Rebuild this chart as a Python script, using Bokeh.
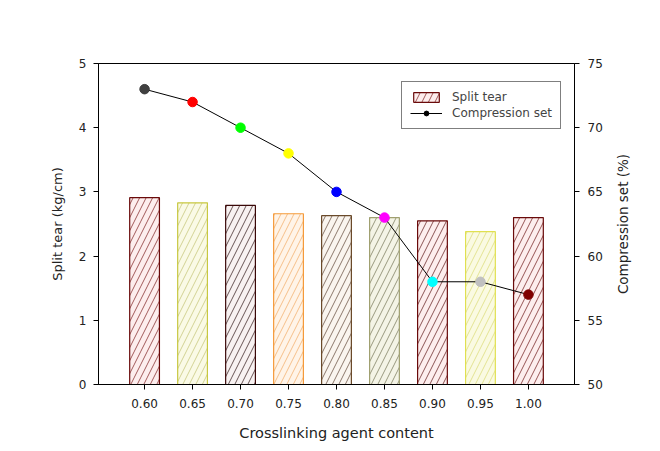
import math
from bokeh.plotting import figure
from bokeh.models import (ColumnDataSource, LinearAxis, Range1d, FixedTicker,
                          PrintfTickFormatter, Legend, LegendItem, Label)
from bokeh.embed import file_html
from bokeh.resources import INLINE

# ---- data ----
content = [0.60, 0.65, 0.70, 0.75, 0.80, 0.85, 0.90, 0.95, 1.00]
split_tear = [2.91, 2.83, 2.79, 2.66, 2.63, 2.60, 2.55, 2.38, 2.60]
compression_set = [73, 72, 70, 68, 65, 63, 58, 58, 57]
bar_line_colors = ["#6a0a0a", "#c8c840", "#3a0808", "#f59a3a", "#6a4a2a",
                   "#a0a070", "#6a0a0a", "#e0e050", "#6a0a0a"]
bar_hatch_colors = ["#7a1a1a", "#c0c070", "#2a1010", "#f0a860", "#5a4030",
                    "#707050", "#5a1010", "#d8d870", "#6a1010"]
bar_fill_colors = ["#fdeeee", "#fafae6", "#f8f2f2", "#fff4e8", "#faf5ef",
                   "#f4f4e6", "#fdeeee", "#fafae2", "#fdeeee"]
marker_colors = ["#404040", "#ff0000", "#00ff00", "#ffff00", "#0000ff",
                 "#ff00ff", "#00ffff", "#c0c0c0", "#800000"]
x_ticks = content
left_ticks = [0, 1, 2, 3, 4, 5]
right_ticks = [50, 55, 60, 65, 70, 75]

FONT = "DejaVu Sans"

p = figure(width=652, height=443, output_backend="svg", toolbar_location=None,
           x_range=Range1d(0.552, 1.048), y_range=Range1d(0, 5),
           min_border_left=98, min_border_right=78, min_border_top=63,
           min_border_bottom=59)
p.extra_y_ranges = {"cs": Range1d(50, 75)}

p.xgrid.visible = False
p.ygrid.visible = False
p.outline_line_color = "black"
p.outline_line_width = 1
p.background_fill_color = "white"
p.border_fill_color = "white"

src = ColumnDataSource(dict(x=content, y=split_tear, lc=bar_line_colors,
                            hc=bar_hatch_colors, fc=bar_fill_colors,
                            cs=compression_set, mc=marker_colors))

bars = p.vbar(x="x", top="y", width=0.031, source=src, fill_color="fc",
              line_color="lc", line_width=1.2, hatch_pattern="/",
              hatch_color="hc", hatch_scale=13, hatch_weight=0.7)

line = p.line(x="x", y="cs", source=src, y_range_name="cs",
              line_color="black", line_width=1)
legend_marker = p.scatter(x=content[:1], y=compression_set[:1], y_range_name="cs",
                          size=8, fill_color="black", line_color="black")
pts = p.scatter(x="x", y="cs", source=src, y_range_name="cs", size=9.5,
                fill_color="mc", line_color="mc")

# axes
p.xaxis.ticker = FixedTicker(ticks=x_ticks)
p.xaxis.formatter = PrintfTickFormatter(format="%.2f")
p.yaxis.ticker = FixedTicker(ticks=left_ticks)
right = LinearAxis(y_range_name="cs", ticker=FixedTicker(ticks=right_ticks))
p.add_layout(right, "right")

for ax in [p.xaxis[0], p.yaxis[0], right]:
    ax.major_tick_in = 0
    ax.major_tick_out = 5
    ax.minor_tick_out = 0
    ax.minor_tick_in = 0
    ax.axis_line_color = "black"
    ax.major_tick_line_color = "black"
    ax.major_label_text_font = FONT
    ax.major_label_text_font_size = "12px"
    ax.major_label_text_color = "#222222"
    ax.axis_label_text_font = FONT
    ax.axis_label_text_font_size = "13.5px"
    ax.axis_label_text_font_style = "normal"
    ax.axis_label_text_color = "#222222"

p.xaxis.axis_label = "Crosslinking agent content"
p.xaxis.axis_label_text_font_size = "14.5px"
p.xaxis.major_label_standoff = 9
p.xaxis.axis_label_standoff = 14
p.yaxis[0].axis_label = "Split tear (kg/cm)"
p.yaxis[0].axis_label_text_font_size = "13px"
p.yaxis[0].major_label_standoff = 7
p.yaxis[0].axis_label_standoff = 11
right.major_label_standoff = 8

right_title = Label(x=1.099, y=62.5, y_range_name="cs",
                    text="Compression set (%)", angle=math.pi / 2,
                    text_align="center", text_baseline="middle",
                    text_font=FONT, text_font_size="13.5px",
                    text_color="#222222")
p.add_layout(right_title, "right")

legend = Legend(items=[
    LegendItem(label="Split tear", renderers=[bars], index=0),
    LegendItem(label="Compression set", renderers=[line, legend_marker]),
], location=(303, 255))
legend.border_line_color = "black"
legend.border_line_width = 1
legend.label_text_font = FONT
legend.label_text_font_size = "12px"
legend.label_height = 14
legend.glyph_height = 12
legend.glyph_width = 32
legend.spacing = 2
legend.padding = 8
legend.label_standoff = 10
legend.background_fill_alpha = 1
p.add_layout(legend)

open("out.html", "w").write(file_html(p, INLINE))
